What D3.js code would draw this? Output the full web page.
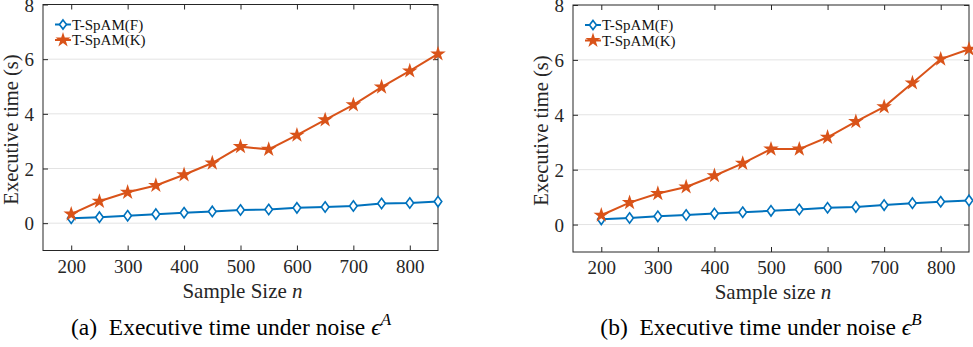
<!DOCTYPE html>
<html>
<head>
<meta charset="utf-8">
<script src="https://d3js.org/d3.v7.min.js"></script>
<style>
  body { margin: 0; background: #fff; }
  svg text { font-family: "Liberation Serif", "Times New Roman", Times, "DejaVu Serif", serif !important; }
</style>
</head>
<body>
<div id="chart"></div>
<script>

// sample sizes n
var sizes = [200, 250, 300, 350, 400, 450, 500, 550, 600, 650, 700, 750, 800, 850];

// panel (a): noise eps^A
var timeF_A = [0.18, 0.22, 0.27, 0.33, 0.38, 0.43, 0.48, 0.50, 0.56, 0.59, 0.63, 0.72, 0.74, 0.79];
var timeK_A = [0.33, 0.80, 1.13, 1.38, 1.77, 2.20, 2.80, 2.70, 3.22, 3.78, 4.33, 4.98, 5.57, 6.19];

// panel (b): noise eps^B
var timeF_B = [0.19, 0.24, 0.30, 0.35, 0.40, 0.45, 0.50, 0.55, 0.61, 0.64, 0.71, 0.78, 0.83, 0.88];
var timeK_B = [0.34, 0.80, 1.13, 1.37, 1.78, 2.23, 2.75, 2.75, 3.18, 3.75, 4.29, 5.16, 6.03, 6.39];

var xTicks = [200, 300, 400, 500, 600, 700, 800];
var yTicks = [0, 2, 4, 6, 8];
var seriesNames = ["T-SpAM(F)", "T-SpAM(K)"];

var blue = "#0072BD", orange = "#D95319";

var svg = d3.select("#chart").append("svg")
    .attr("width", 973)
    .attr("height", 347);

// diamond path centered on 0,0
function diamond(w, h) {
  return "M0," + (-h) + "L" + w + ",0L0," + h + "L" + (-w) + ",0Z";
}

function drawPanel(opt) {
  var x = d3.scaleLinear().domain([150, 850]).range([opt.left, opt.right]);
  var y = d3.scaleLinear().domain([-1, 8]).range([opt.bottom, opt.top]);
  var g = svg.append("g");

  // grid lines
  g.selectAll(".grid").data([0, 2, 4, 6]).enter().append("line")
    .attr("x1", opt.left).attr("x2", opt.right)
    .attr("y1", function(d) { return y(d); })
    .attr("y2", function(d) { return y(d); })
    .attr("stroke", "#e3e3e3").attr("stroke-width", 1);

  // box
  g.append("rect")
    .attr("x", opt.left).attr("y", opt.top)
    .attr("width", opt.right - opt.left).attr("height", opt.bottom - opt.top)
    .attr("fill", "none").attr("stroke", "#262626").attr("stroke-width", 1);

  // axes with inward ticks, mirrored on top and right
  g.append("g").attr("transform", "translate(0," + opt.bottom + ")")
    .call(d3.axisBottom(x).tickValues(xTicks).tickSizeInner(-5).tickSizeOuter(0).tickPadding(9));
  g.append("g").attr("transform", "translate(0," + opt.top + ")")
    .call(d3.axisTop(x).tickValues(xTicks).tickSizeInner(-5).tickSizeOuter(0).tickFormat(""));
  var ay = g.append("g").attr("transform", "translate(" + opt.left + ",0)")
    .call(d3.axisLeft(y).tickValues(yTicks).tickSizeInner(-5).tickSizeOuter(0).tickPadding(9));
  g.append("g").attr("transform", "translate(" + opt.right + ",0)")
    .call(d3.axisRight(y).tickValues(yTicks).tickSizeInner(-5).tickSizeOuter(0).tickFormat(""));

  g.selectAll(".domain").remove();
  g.selectAll(".tick line").attr("stroke", "#262626");
  g.selectAll(".tick text")
    .attr("font-size", 19)
    .attr("fill", "#262626");
  ay.selectAll(".tick text").attr("dy", "0.35em");

  var line = d3.line()
    .x(function(d) { return x(d[0]); })
    .y(function(d) { return y(d[1]); });

  var dataF = sizes.map(function(n, i) { return [n, opt.f[i]]; });
  var dataK = sizes.map(function(n, i) { return [n, opt.k[i]]; });

  g.append("path").datum(dataF)
    .attr("fill", "none").attr("stroke", blue).attr("stroke-width", 2)
    .attr("d", line);
  g.selectAll(".mf").data(dataF).enter().append("path")
    .attr("transform", function(d) { return "translate(" + x(d[0]) + "," + y(d[1]) + ")"; })
    .attr("d", diamond(3.8, 5.2))
    .attr("fill", "#fff").attr("stroke", blue).attr("stroke-width", 1.6);

  g.append("path").datum(dataK)
    .attr("fill", "none").attr("stroke", orange).attr("stroke-width", 2)
    .attr("d", line);
  g.selectAll(".mk").data(dataK).enter().append("path")
    .attr("transform", function(d) { return "translate(" + x(d[0]) + "," + y(d[1]) + ")"; })
    .attr("d", d3.symbol().type(d3.symbolStar).size(75))
    .attr("fill", orange);

  // legend
  var lx = opt.left + 12, ly = opt.top + 20;
  seriesNames.forEach(function(name, i) {
    var yy = ly + i * 15.5;
    var col = i === 0 ? blue : orange;
    g.append("line").attr("x1", lx).attr("x2", lx + 16)
      .attr("y1", yy).attr("y2", yy)
      .attr("stroke", col).attr("stroke-width", 2);
    if (i === 0) {
      g.append("path").attr("transform", "translate(" + (lx + 8) + "," + yy + ")")
        .attr("d", diamond(3.5, 4.6))
        .attr("fill", "#fff").attr("stroke", col).attr("stroke-width", 1.6);
    } else {
      g.append("path").attr("transform", "translate(" + (lx + 8) + "," + yy + ")")
        .attr("d", d3.symbol().type(d3.symbolStar).size(70))
        .attr("fill", col);
    }
    g.append("text").attr("x", lx + 17).attr("y", yy + 5)
      .attr("font-size", 15).attr("fill", "#111")
      .text(name);
  });

  // y label
  g.append("text")
    .attr("transform", "translate(" + (opt.left - 25) + "," + ((opt.top + opt.bottom) / 2 + 2) + ") rotate(-90)")
    .attr("text-anchor", "middle")
    .attr("font-size", 20.5).attr("fill", "#262626")
    .text("Executive time (s)");

  // x label
  var xl = g.append("text")
    .attr("x", (opt.left + opt.right) / 2 + 2).attr("y", opt.bottom + 47)
    .attr("text-anchor", "middle")
    .attr("font-size", 21).attr("fill", "#262626");
  xl.append("tspan").text(opt.xlabel + " ");
  xl.append("tspan").attr("font-style", "italic").text("n");

  // caption
  var cap = g.append("text")
    .attr("x", opt.capX).attr("y", 335)
    .attr("text-anchor", "middle")
    .attr("font-size", 23.5).attr("fill", "#000");
  cap.append("tspan").text(opt.tag + "\u2002Executive time under noise ");
  cap.append("tspan").attr("font-style", "italic").text("\u03f5");
  cap.append("tspan").attr("font-style", "italic").attr("font-size", 17)
    .attr("dy", -10).text(opt.sup);
}

drawPanel({ left: 43, right: 438, top: 4.5, bottom: 250.5,
  f: timeF_A, k: timeK_A, xlabel: "Sample Size", tag: "(a)", sup: "A", capX: 231 });
drawPanel({ left: 573, right: 969, top: 5, bottom: 252,
  f: timeF_B, k: timeK_B, xlabel: "Sample size", tag: "(b)", sup: "B", capX: 761 });

</script>
</body>
</html>
